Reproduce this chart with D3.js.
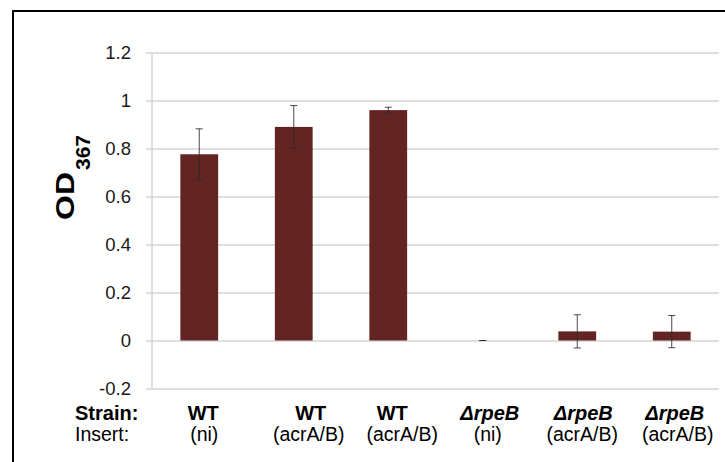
<!DOCTYPE html>
<html>
<head>
<meta charset="utf-8">
<script src="https://cdn.jsdelivr.net/npm/d3@7"></script>
<style>
  body { margin: 0; background: #fff; }
  svg { display: block; font-family: "Liberation Sans", Arial, sans-serif; }
</style>
</head>
<body>
<svg id="chart" width="725" height="462"></svg>
<script>
// data
var strains = ["WT", "WT", "WT", "\u0394rpeB", "\u0394rpeB", "\u0394rpeB"]
var inserts = ["(ni)", "(acrA/B)", "(acrA/B)", "(ni)", "(acrA/B)", "(acrA/B)"]
var od367 = [0.776, 0.89, 0.96, 0, 0.038, 0.037]
var errs = [0.106, 0.089, 0.012, 0, 0.069, 0.067]
var yTicks = [-0.2, 0, 0.2, 0.4, 0.6, 0.8, 1, 1.2]

var width = 725, height = 462
var svg = d3.select("#chart")

// outer frame (runs off the right and bottom edges)
svg.append("rect")
    .attr("x", 13).attr("y", 11)
    .attr("width", 740).attr("height", 480)
    .attr("fill", "none")
    .attr("stroke", "#000")
    .attr("stroke-width", 2)

var x = d3.scaleBand()
    .domain(d3.range(strains.length))
    .range([152, 719])
    .paddingInner(0.6)
    .paddingOuter(0.3)

var y = d3.scaleLinear()
    .domain([-0.2, 1.2])
    .range([388.5, 52.5])

// gridlines + ticks
var yAxis = d3.axisLeft(y)
    .tickValues(yTicks)
    .tickSize(-(719 - 152))
    .tickPadding(20)
    .tickFormat(d => String(+d.toFixed(1)))   // plain hyphen, like the original

var ga = svg.append("g")
    .attr("transform", "translate(152,0)")
    .call(yAxis)
ga.select(".domain").remove()
ga.selectAll(".tick line")
    .attr("x1", -6)
    .attr("stroke", "#d4d4d4")
    .attr("stroke-width", 1.5)
ga.selectAll(".tick text")
    .attr("x", -21)
    .attr("font-size", 18.5)
    .attr("font-family", "Liberation Sans, Arial, sans-serif")
    .attr("fill", "#1a1a1a")

svg.append("line")
    .attr("x1", 152).attr("x2", 152)
    .attr("y1", y(1.2)).attr("y2", y(-0.2))
    .attr("stroke", "#d4d4d4")
    .attr("stroke-width", 1.5)

// bars
svg.selectAll("rect.bar")
    .data(od367)
    .enter().append("rect")
    .attr("class", "bar")
    .attr("x", (d, i) => x(i))
    .attr("width", x.bandwidth())
    .attr("y", d => y(Math.max(0, d)))
    .attr("height", d => Math.abs(y(d) - y(0)))
    .attr("fill", "#632523")

// error bars
var eb = svg.selectAll("g.err")
    .data(od367)
    .enter().append("g")
    .attr("class", "err")
    .attr("stroke", "#2a2a2a")
    .attr("stroke-opacity", 0.85)
    .attr("stroke-width", 1)
eb.append("line")
    .attr("x1", (d, i) => x(i) + x.bandwidth() / 2)
    .attr("x2", (d, i) => x(i) + x.bandwidth() / 2)
    .attr("y1", (d, i) => y(d + errs[i]))
    .attr("y2", (d, i) => y(d - errs[i]))
eb.selectAll("line.cap")
    .data((d, i) => [[i, d + errs[i]], [i, d - errs[i]]])
    .enter().append("line")
    .attr("class", "cap")
    .attr("x1", d => x(d[0]) + x.bandwidth() / 2 - 3.5)
    .attr("x2", d => x(d[0]) + x.bandwidth() / 2 + 3.5)
    .attr("y1", d => y(d[1]))
    .attr("y2", d => y(d[1]))

// y title: OD with subscript 367
svg.append("text")
    .attr("transform", "translate(74,220) rotate(-90)")
    .attr("font-size", 25)
    .attr("font-weight", "bold")
    .attr("textLength", 48)
    .attr("lengthAdjust", "spacingAndGlyphs")
    .attr("fill", "#000")
    .text("OD")
svg.append("text")
    .attr("transform", "translate(90,170) rotate(-90)")
    .attr("font-size", 20)
    .attr("font-weight", "bold")
    .attr("textLength", 35)
    .attr("lengthAdjust", "spacingAndGlyphs")
    .attr("fill", "#000")
    .text("367")

// category label rows (text box sits slightly off the bar centres)
var nudgeStrain = [4, 17, 4, 7, 6, 3]
var nudgeInsert = [5, 15, 14, 5, 5, 6]

svg.append("text")
    .attr("x", 75).attr("y", 420)
    .attr("font-size", 20).attr("font-weight", "bold")
    .text("Strain:")
svg.append("text")
    .attr("x", 75).attr("y", 441)
    .attr("font-size", 19.5)
    .text("Insert:")

svg.selectAll("text.strain")
    .data(strains)
    .enter().append("text")
    .attr("class", "strain")
    .attr("x", (d, i) => x(i) + x.bandwidth() / 2 + nudgeStrain[i])
    .attr("y", 420)
    .attr("text-anchor", "middle")
    .attr("font-size", 20)
    .attr("font-weight", "bold")
    .attr("font-style", d => d.indexOf("rpeB") >= 0 ? "italic" : "normal")
    .text(d => d)

svg.selectAll("text.insert")
    .data(inserts)
    .enter().append("text")
    .attr("class", "insert")
    .attr("x", (d, i) => x(i) + x.bandwidth() / 2 + nudgeInsert[i])
    .attr("y", 441)
    .attr("text-anchor", "middle")
    .attr("font-size", 19.5)
    .text(d => d)
</script>
</body>
</html>
